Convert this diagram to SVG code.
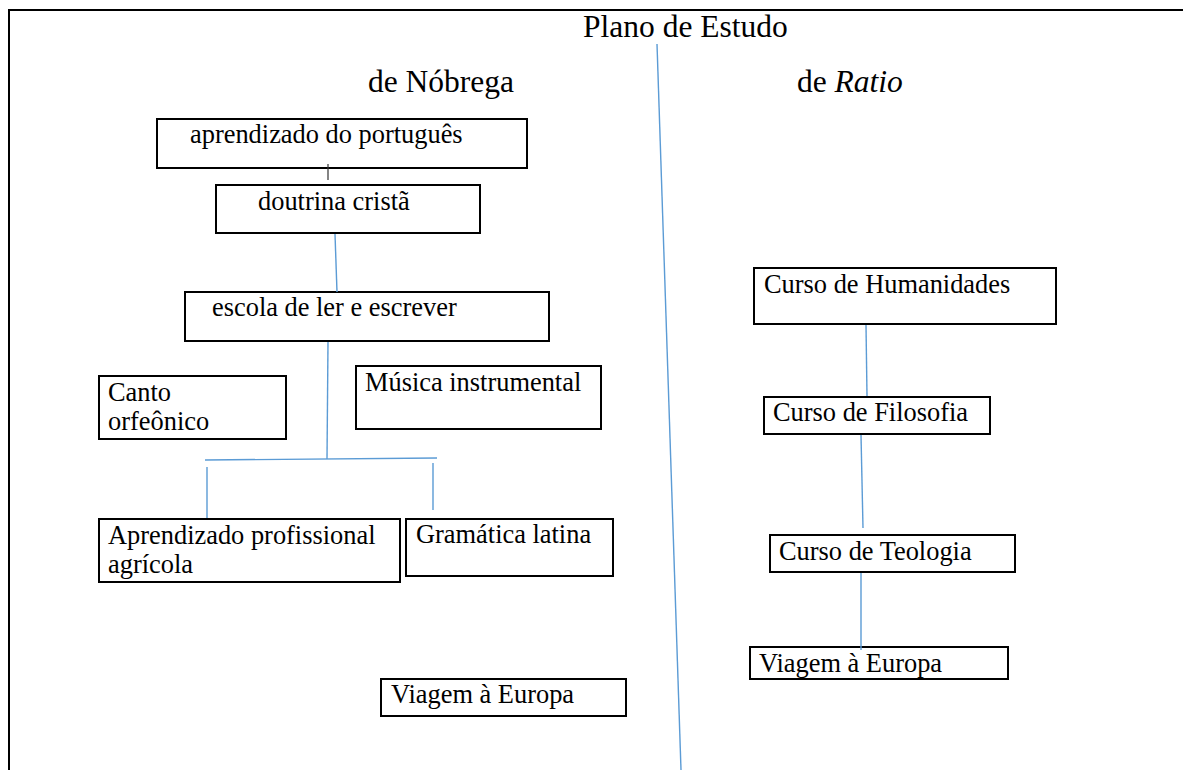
<svg xmlns="http://www.w3.org/2000/svg" width="1183" height="770" viewBox="0 0 1183 770">
<style>
.box{fill:#fff;stroke:#000;stroke-width:2}
.t{font-family:"Liberation Serif","Times New Roman",serif;font-size:26.4px;fill:#000}
.h{font-family:"Liberation Serif","Times New Roman",serif;font-size:31.5px;fill:#000}
.c{stroke:#5b9bd5;stroke-width:1.4;fill:none}
.frame{stroke:#000;stroke-width:2;fill:none}
</style>
<rect width="1183" height="770" fill="#fff"/>
<g id="frame">
<polyline class="frame" points="9,770 9,10 1183,10"/>
</g>
<g id="n-portugues">
<rect class="box" x="157" y="119" width="370" height="49"/>
<text class="t" x="190" y="143">aprendizado do português</text>
</g>
<g id="n-doutrina">
<rect class="box" x="216" y="185" width="264" height="48"/>
<text class="t" x="258" y="210">doutrina cristã</text>
</g>
<g id="n-escola">
<rect class="box" x="185" y="292" width="364" height="49"/>
<text class="t" x="212" y="316">escola de ler e escrever</text>
</g>
<g id="n-canto">
<rect class="box" x="99" y="376" width="187" height="63"/>
<text class="t" x="108" y="401">Canto</text>
<text class="t" x="108" y="430">orfeônico</text>
</g>
<g id="n-musica">
<rect class="box" x="356" y="366" width="245" height="63"/>
<text class="t" x="365" y="391">Música instrumental</text>
</g>
<g id="n-agricola">
<rect class="box" x="99" y="519" width="301" height="63"/>
<text class="t" x="108" y="544">Aprendizado profissional</text>
<text class="t" x="108" y="573">agrícola</text>
</g>
<g id="n-gramatica">
<rect class="box" x="406" y="519" width="207" height="57"/>
<text class="t" x="416" y="543">Gramática latina</text>
</g>
<g id="n-viagem-n">
<rect class="box" x="381" y="679" width="245" height="37"/>
<text class="t" x="391" y="703">Viagem à Europa</text>
</g>
<g id="n-humanidades">
<rect class="box" x="754" y="268" width="302" height="56"/>
<text class="t" x="764" y="293">Curso de Humanidades</text>
</g>
<g id="n-filosofia">
<rect class="box" x="764" y="397" width="226" height="37"/>
<text class="t" x="773" y="421">Curso de Filosofia</text>
</g>
<g id="n-teologia">
<rect class="box" x="770" y="535" width="245" height="37"/>
<text class="t" x="779" y="560">Curso de Teologia</text>
</g>
<g id="n-viagem-r">
<rect class="box" x="750" y="647" width="258" height="32"/>
<text class="t" x="759" y="672">Viagem à Europa</text>
</g>
<g id="connectors">
<line class="c" x1="657" y1="44" x2="681" y2="770"/>
<line x1="328" y1="164" x2="328" y2="180" stroke="#333" stroke-width="1.2"/>
<line class="c" x1="335" y1="234" x2="337" y2="292"/>
<line class="c" x1="328" y1="342" x2="327" y2="459"/>
<line class="c" x1="205" y1="460" x2="437" y2="458"/>
<line class="c" x1="207" y1="467" x2="207" y2="518"/>
<line class="c" x1="433" y1="463" x2="433" y2="510"/>
<line class="c" x1="866" y1="325" x2="867" y2="396"/>
<line class="c" x1="861" y1="435" x2="863" y2="528"/>
<line class="c" x1="861" y1="573" x2="861" y2="650"/>
</g>
<g id="titles">
<text class="h" x="583" y="37">Plano de Estudo</text>
<text class="h" x="368" y="92">de Nóbrega</text>
<text class="h" x="797" y="92">de <tspan font-style="italic">Ratio</tspan></text>
</g>
</svg>
